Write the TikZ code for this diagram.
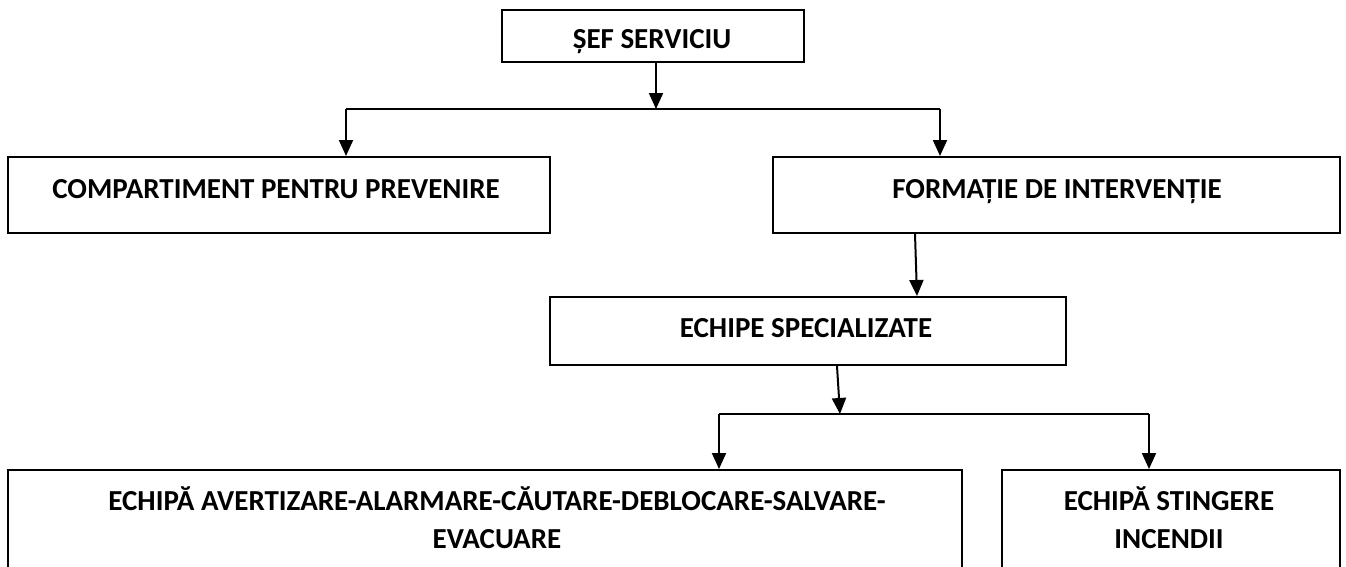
\documentclass[tikz,border=0pt]{standalone}
\usepackage{fontspec}
\setmainfont{Carlito}
\usetikzlibrary{arrows.meta}
\begin{document}
\begin{tikzpicture}[x=1pt,y=-1pt,
  box/.style={draw, line width=2pt, rectangle, inner sep=0pt},
  txt/.style={font=\bfseries\fontsize{29}{38}\selectfont, inner sep=0pt, anchor=base, align=center},
  conn/.style={line width=2pt},
  arr/.style={line width=2pt, -{Triangle[length=16pt,width=14pt]}}]
\useasboundingbox (0,0) rectangle (1346,566);
\clip (0,0) rectangle (1346,566);
% boxes
\node[box, minimum width=302pt, minimum height=52pt] (sef) at (653,36) {};
\node[box, minimum width=542pt, minimum height=76pt] (comp) at (279,195) {};
\node[box, minimum width=567pt, minimum height=76pt] (form) at (1056.5,195) {};
\node[box, minimum width=516pt, minimum height=68pt] (spec) at (808,331) {};
\node[box, minimum width=954pt, minimum height=150pt] (aval) at (485,545) {};
\node[box, minimum width=338pt, minimum height=150pt] (stin) at (1171,545) {};
% texts
\node[txt] (tsef) at (652,48) {ȘEF SERVICIU};
\node[txt] (tcomp) at (276,198) {COMPARTIMENT PENTRU PREVENIRE};
\node[txt] (tform) at (1057,198) {FORMAȚIE DE INTERVENȚIE};
\node[txt] (tspec) at (806,337) {ECHIPE SPECIALIZATE};
\node[txt] (taval) at (497,548) {ECHIPĂ AVERTIZARE-ALARMARE-CĂUTARE-DEBLOCARE-SALVARE-\\EVACUARE};
\node[txt] (tstin) at (1169,548) {ECHIPĂ STINGERE\\INCENDII};
% junctions
\coordinate (j1) at (656,109);
\coordinate (jl) at (346,109);
\coordinate (jr) at (940,109);
\coordinate (j2) at (840,414);
\coordinate (kl) at (719,414);
\coordinate (kr) at (1149,414);
% connectors
\draw[arr] (j1 |- sef.south) -- (j1);
\draw[conn] (jl) -- (jr);
\draw[arr] (jl) -- (jl |- comp.north);
\draw[arr] (jr) -- (jr |- form.north);
\draw[arr] ([xshift=143pt]form.south west) -- ([xshift=368pt]spec.north west);
\draw[arr] ([xshift=288pt]spec.south west) -- (j2);
\draw[conn] (kl) -- (kr);
\draw[arr] (kl) -- (kl |- aval.north);
\draw[arr] (kr) -- (kr |- stin.north);
\end{tikzpicture}
\end{document}
